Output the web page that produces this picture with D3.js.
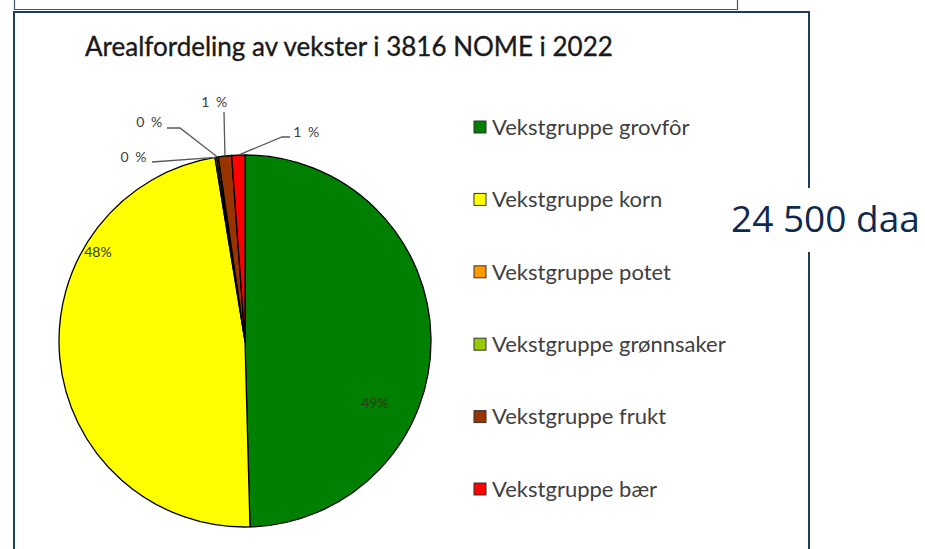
<!DOCTYPE html>
<html>
<head>
<meta charset="utf-8">
<script src="https://cdn.jsdelivr.net/npm/d3@7"></script>
<style>
  body { margin: 0; background: #fff; }
  svg { display: block; }
</style>
</head>
<body>
<div id="chart"></div>
<script>
// Arealfordeling av vekster, 3816 Nome 2022 (daa)
var categories = ["Vekstgruppe grovfôr", "Vekstgruppe korn", "Vekstgruppe potet",
                  "Vekstgruppe grønnsaker", "Vekstgruppe frukt", "Vekstgruppe bær"];
var areaDaa = [12145, 11723, 35, 35, 282, 280];
var sliceLabels = ["49%", "48%", "0 %", "0 %", "1 %", "1 %"];
var colors = ["#008000", "#ffff00", "#ff9900", "#99cc00", "#993300", "#ff0000"];
var titleText = "Arealfordeling av vekster i 3816 NOME i 2022";
var totalText = "24 500 daa";

var width = 925, height = 549;
var cx = 245, cy = 341, radius = 186;

// label placement (polar, degrees clockwise from 12 o'clock) and leader elbows
var labelLayout = [
  { angle: 115.5, r: 144, anchor: "middle" },
  { angle: 301.2, r: 172, anchor: "middle" },
  { x: 148, y: 162, anchor: "end",    leader: [[152, 162]] },
  { x: 150, y: 127, anchor: "middle", leader: [[167, 128], [180, 128]] },
  { x: 215, y: 107, anchor: "middle", leader: [[224, 112]] },
  { x: 307, y: 137, anchor: "middle", leader: [[290, 137], [282, 137]] }
];

var svg = d3.select("#chart").append("svg")
    .attr("width", width)
    .attr("height", height);

svg.append("rect")
    .attr("width", width).attr("height", height)
    .attr("fill", "#fff");

// box from the slide above
svg.append("path")
    .attr("d", "M14.5,-2 V9.5 H737.5 V-2")
    .attr("fill", "none")
    .attr("stroke", "#44546a")
    .attr("stroke-width", 1.2);

// chart frame
svg.append("path")
    .attr("d", "M14,560 V12 H809 V560")
    .attr("fill", "none")
    .attr("stroke", "#1f3a5f")
    .attr("stroke-width", 2);

svg.append("text")
    .attr("x", 85)
    .attr("y", 56)
    .attr("font-family", "Lato, 'Open Sans', sans-serif")
    .attr("font-size", 26)
    .attr("fill", "#1a1a1a")
    .attr("stroke", "#1a1a1a")
    .attr("stroke-width", 0.35)
    .text(titleText);

var pie = d3.pie().sort(null).value(function(d) { return d; });
var arc = d3.arc().innerRadius(0).outerRadius(radius);
var arcs = pie(areaDaa);

var g = svg.append("g")
    .attr("transform", "translate(" + cx + "," + cy + ")");

g.selectAll(".slice")
    .data(arcs)
  .enter().append("path")
    .attr("class", "slice")
    .attr("d", arc)
    .attr("fill", function(d, i) { return colors[i]; })
    .attr("stroke", "#000")
    .attr("stroke-width", 1.3)
    .attr("stroke-linejoin", "round");

function polar(angleDeg, r) {
  var a = angleDeg * Math.PI / 180;
  return [r * Math.sin(a), -r * Math.cos(a)];
}

// leader lines for the small slices
arcs.forEach(function(d, i) {
  var L = labelLayout[i];
  if (!L.leader) return;
  var mid = (d.startAngle + d.endAngle) / 2;
  var edge = [cx + radius * Math.sin(mid), cy - radius * Math.cos(mid)];
  var pts = L.leader.concat([edge]);
  svg.append("path")
      .attr("d", d3.line()(pts))
      .attr("fill", "none")
      .attr("stroke", "#595959")
      .attr("stroke-width", 1.3);
});

svg.selectAll(".slice-label")
    .data(arcs)
  .enter().append("text")
    .attr("class", "slice-label")
    .attr("x", function(d, i) {
      var L = labelLayout[i];
      return L.leader ? L.x : cx + polar(L.angle, L.r)[0];
    })
    .attr("y", function(d, i) {
      var L = labelLayout[i];
      return L.leader ? L.y : cy + polar(L.angle, L.r)[1];
    })
    .attr("dy", function(d, i) { return labelLayout[i].leader ? 0 : "0.35em"; })
    .attr("text-anchor", function(d, i) { return labelLayout[i].anchor; })
    .attr("font-family", "Lato, 'Open Sans', sans-serif")
    .attr("font-size", 14)
    .attr("fill", function(d, i) { return i < 2 ? "#2f3a10" : "#404040"; })
    .attr("letter-spacing", function(d, i) { return i < 2 ? 0 : 1.5; })
    .text(function(d, i) { return sliceLabels[i]; });

// legend
var ly = d3.scalePoint().domain(categories).range([127, 489]);

var legend = svg.selectAll(".legend")
    .data(categories)
  .enter().append("g")
    .attr("class", "legend")
    .attr("transform", function(d) { return "translate(474," + ly(d) + ")"; });

legend.append("rect")
    .attr("x", 0).attr("y", -6)
    .attr("width", 12).attr("height", 12)
    .attr("fill", function(d, i) { return colors[i]; })
    .attr("stroke", "#333")
    .attr("stroke-width", 1);

legend.append("text")
    .attr("x", 18)
    .attr("dy", "0.35em")
    .attr("font-family", "Lato, 'Open Sans', sans-serif")
    .attr("font-size", 22)
    .attr("fill", "#404040")
    .text(function(d) { return d; });

// total area, drawn over the frame edge
var total = svg.append("g");
total.append("rect")
    .attr("x", 726).attr("y", 188)
    .attr("width", 199).attr("height", 64)
    .attr("fill", "#fff");
total.append("text")
    .attr("x", 731)
    .attr("y", 232)
    .attr("font-family", "'Open Sans', sans-serif")
    .attr("font-size", 37)
    .attr("fill", "#0e2a4e")
    .text(totalText);
</script>
</body>
</html>
